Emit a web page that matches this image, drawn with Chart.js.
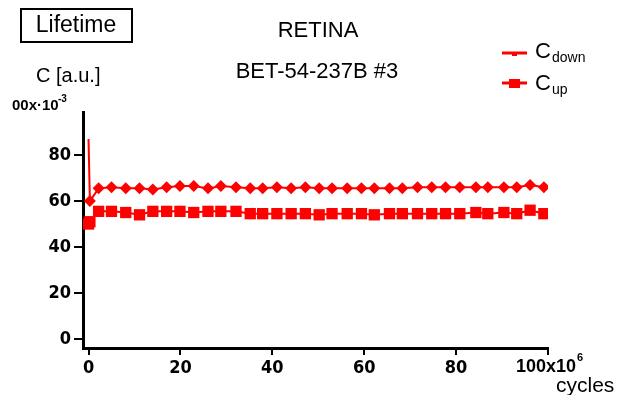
<!DOCTYPE html>
<html>
<head>
<meta charset="utf-8">
<script src="https://cdn.jsdelivr.net/npm/chart.js@4/dist/chart.umd.min.js"></script>
<style>
  body { margin: 0; background: #fff; }
</style>
</head>
<body>
<canvas id="myChart" width="620" height="395"></canvas>
<script>
'use strict';

// cycles (x10^6) and capacitance readings
const cycles = [0, 0.3, 2.2, 5.0, 8.1, 11.1, 14.0, 17.0, 19.9, 22.9, 26.0, 28.8, 32.1, 35.2, 37.9, 41.0, 44.1,
  47.2, 50.2, 53.0, 56.3, 59.4, 62.2, 65.5, 68.3, 71.6, 74.7, 77.7, 80.8, 84.3, 86.9, 90.4, 93.2, 96.1, 99.1];
const cDown = [87, 60, 65.5, 66, 65.5, 65.5, 65, 66, 66.5, 66.5, 65.5, 66.5, 66, 65.5, 65.5, 66, 65.5,
  66, 65.5, 65.5, 65.5, 65.5, 65.5, 65.5, 65.5, 66, 66, 66, 66, 66, 66, 66, 66, 67, 66];
const cUp = [50, 51, 55.5, 55.5, 55, 54, 55.5, 55.5, 55.5, 55, 55.5, 55.5, 55.5, 54.5, 54.5, 54.5, 54.5,
  54.5, 54, 54.5, 54.5, 54.5, 54, 54.5, 54.5, 54.5, 54.5, 54.5, 54.5, 55, 54.5, 55, 54.5, 56, 54.5];
const yTicks = [0, 20, 40, 60, 80];
const xTicks = [0, 20, 40, 60, 80, 100];

const red = '#ff0000';
const tickFont = { family: '"Liberation Sans Narrow", "DejaVu Sans Condensed", sans-serif', size: 18, weight: 'bold' };

function toPoints(ys) {
  return ys.map((y, i) => ({ x: cycles[i], y: y }));
}

// down series: no marker on the first spike point
let downRadius = cDown.map((v, i) => (i === 0 ? 0 : 6));

const decor = {
  id: 'decor',
  afterDraw(chart) {
    const ctx = chart.ctx;
    ctx.save();
    ctx.fillStyle = '#000';
    ctx.textBaseline = 'middle';

    // boxed tag
    ctx.strokeStyle = '#000';
    ctx.lineWidth = 2;
    ctx.strokeRect(21, 9, 111, 33);
    ctx.font = '23px "Liberation Sans", sans-serif';
    ctx.textAlign = 'center';
    ctx.fillText('Lifetime', 76, 26);

    // titles
    ctx.font = '22px "Liberation Sans", sans-serif';
    ctx.fillText('RETINA', 318, 31);
    ctx.fillText('BET-54-237B #3', 317, 72);

    // axis texts
    ctx.font = '20px "Liberation Sans", sans-serif';
    ctx.textAlign = 'left';
    ctx.fillText('C [a.u.]', 36, 76);
    ctx.font = 'bold 15px "Liberation Sans Narrow", sans-serif';
    ctx.fillText('00x·10', 12, 106);
    ctx.font = 'bold 10px "Liberation Sans Narrow", sans-serif';
    ctx.fillText('-3', 58, 99);
    ctx.font = 'bold 18px "Liberation Sans Narrow", sans-serif';
    ctx.fillText('100x10', 516, 367);
    ctx.font = 'bold 11px "Liberation Sans Narrow", sans-serif';
    let w = ctx.measureText('x').width;
    ctx.font = 'bold 18px "Liberation Sans Narrow", sans-serif';
    let endX = 516 + ctx.measureText('100x10').width;
    ctx.font = 'bold 11px "Liberation Sans Narrow", sans-serif';
    ctx.fillText('6', endX + 1 + w * 0, 358);
    ctx.font = '21px "Liberation Sans", sans-serif';
    ctx.fillText('cycles', 556, 386);

    // legend
    ctx.strokeStyle = red;
    ctx.fillStyle = red;
    ctx.lineWidth = 3;
    ctx.beginPath();
    ctx.moveTo(502, 53);
    ctx.lineTo(527, 53);
    ctx.moveTo(502, 83);
    ctx.lineTo(527, 83);
    ctx.stroke();
    ctx.fillRect(512, 53, 5, 3);
    ctx.fillRect(509, 79, 11, 9);

    ctx.fillStyle = '#000';
    ctx.font = '22px "Liberation Sans", sans-serif';
    ctx.fillText('C', 535, 52);
    ctx.fillText('C', 535, 84);
    ctx.font = '14px "Liberation Sans", sans-serif';
    ctx.fillText('down', 552, 58);
    ctx.fillText('up', 552, 90);
    ctx.restore();
  }
};

let myObj = {
  type: 'line',
  data: {
    datasets: [{
      label: 'Cdown',
      data: toPoints(cDown),
      borderColor: red,
      backgroundColor: red,
      borderWidth: 2,
      pointStyle: 'rectRot',
      pointRadius: downRadius,
      pointBorderWidth: 0
    },
    {
      label: 'Cup',
      data: toPoints(cUp),
      borderColor: red,
      backgroundColor: red,
      borderWidth: 2,
      pointStyle: 'rect',
      pointRadius: 8,
      pointBorderWidth: 0
    }]
  },
  options: {
    responsive: false,
    animation: false,
    layout: { padding: { top: 112, right: 72, left: 0, bottom: 0 } },
    plugins: {
      legend: { display: false },
      tooltip: { enabled: false }
    },
    scales: {
      x: {
        type: 'linear',
        min: -1.2,
        max: 100,
        afterFit: s => { s.height = 47; },
        afterBuildTicks: s => { s.ticks = xTicks.map(v => ({ value: v })); },
        border: { display: true, color: '#000', width: 3 },
        grid: { drawOnChartArea: false, drawTicks: true, tickLength: 7, color: '#000', lineWidth: 2 },
        ticks: {
          color: '#000',
          font: tickFont,
          padding: 3,
          maxRotation: 0,
          autoSkip: false,
          // the 100 label is drawn together with its multiplier
          callback: v => (v === 100 ? '' : v)
        }
      },
      y: {
        min: -3.9,
        max: 98.7,
        afterFit: s => { s.width = 83; },
        afterBuildTicks: s => { s.ticks = yTicks.map(v => ({ value: v })); },
        border: { display: true, color: '#000', width: 3 },
        grid: { drawOnChartArea: false, drawTicks: true, tickLength: 9, color: '#000', lineWidth: 2 },
        ticks: {
          color: '#000',
          font: tickFont,
          padding: 3,
          autoSkip: false
        }
      }
    }
  },
  plugins: [decor]
};

let canvasElem = document.getElementById('myChart').getContext('2d');
new Chart(canvasElem, myObj);
</script>
</body>
</html>
